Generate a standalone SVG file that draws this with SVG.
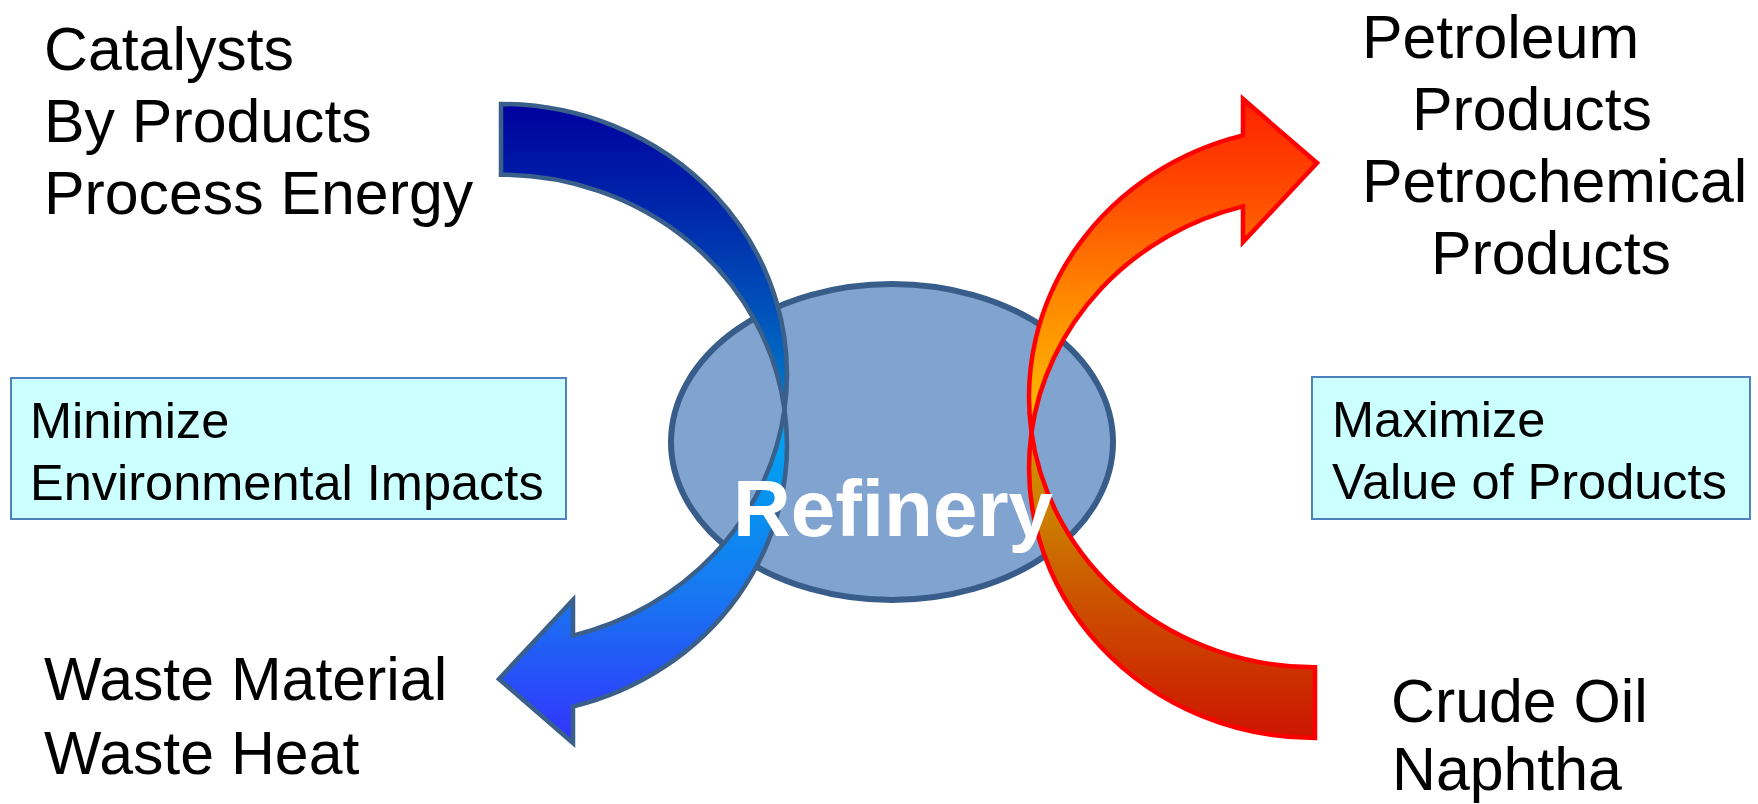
<svg xmlns="http://www.w3.org/2000/svg" width="1758" height="804" viewBox="0 0 1758 804">
<style>
.lbl{font-family:"Liberation Sans",Arial,sans-serif;font-size:60.8px;fill:#000}
.box{fill:#CCFFFF;stroke:#4F81BD;stroke-width:2}
.btxt{font-family:"Liberation Sans",Arial,sans-serif;font-size:50.5px;fill:#000}
.title{font-family:"Liberation Sans",Arial,sans-serif;font-size:80px;font-weight:bold;fill:#fff}
.blue{stroke:#3A5F8B;stroke-width:4.5;stroke-linejoin:miter;stroke-miterlimit:10}
.red{stroke:#FF0000;stroke-width:4.5;stroke-linejoin:miter;stroke-miterlimit:10}
</style>
<defs>
<linearGradient id="bBack" gradientUnits="userSpaceOnUse" x1="0" y1="104" x2="0" y2="420">
<stop offset="0" stop-color="#00009E"/>
<stop offset="0.4" stop-color="#0030AE"/>
<stop offset="0.7" stop-color="#0058BC"/>
<stop offset="1" stop-color="#0080CC"/>
</linearGradient>
<linearGradient id="bFront" gradientUnits="userSpaceOnUse" x1="0" y1="410" x2="0" y2="743">
<stop offset="0" stop-color="#00A8F0"/>
<stop offset="0.3" stop-color="#0890F0"/>
<stop offset="0.55" stop-color="#1878F2"/>
<stop offset="0.7" stop-color="#2060F4"/>
<stop offset="1" stop-color="#3333FF"/>
</linearGradient>
<linearGradient id="rFront" gradientUnits="userSpaceOnUse" x1="0" y1="95" x2="0" y2="433">
<stop offset="0" stop-color="#FF2000"/>
<stop offset="0.3" stop-color="#FF4C00"/>
<stop offset="0.6" stop-color="#FF8800"/>
<stop offset="0.85" stop-color="#FFAC00"/>
<stop offset="1" stop-color="#FFC000"/>
</linearGradient>
<linearGradient id="rBack" gradientUnits="userSpaceOnUse" x1="0" y1="420" x2="0" y2="740">
<stop offset="0" stop-color="#D09600"/>
<stop offset="0.3" stop-color="#CC7E00"/>
<stop offset="0.6" stop-color="#CC4C00"/>
<stop offset="1" stop-color="#CC1400"/>
</linearGradient>
</defs>

<g id="refinery">
<ellipse cx="892" cy="442" rx="221" ry="158" fill="#81A3CF" stroke="#385D8A" stroke-width="6"/>
</g>

<g id="connectors">
<g id="arrow-waste">
<path class="blue" fill="url(#bBack)" d="M 501,104 A 286 270.3 0 0 1 784.5,409.5 A 286 270.3 0 0 0 501,174.7 Z"/>
<path class="blue" fill="url(#bFront)" d="M 784.5,409.5 A 286 270.3 0 0 1 573,706.6 L 573,743 L 499,679 L 573,600 L 573,635.6 A 286 270.3 0 0 0 784.5,409.5 Z"/>
</g>
<g id="arrow-products">
<path class="red" fill="url(#rBack)" d="M 1315,738 A 286 270.3 0 0 1 1031.5,432.5 A 286 270.3 0 0 0 1315,667.3 Z"/>
<path class="red" fill="url(#rFront)" d="M 1031.5,432.5 A 286 270.3 0 0 1 1243,135.4 L 1243,99 L 1317,163 L 1243,242 L 1243,206.4 A 286 270.3 0 0 0 1031.5,432.5 Z"/>
</g>
</g>

<g id="refinery-label">
<text class="title" x="893" y="536" text-anchor="middle">Refinery</text>
</g>

<g id="inputs-top-left">
<text class="lbl" x="44" y="70">Catalysts</text>
<text class="lbl" x="44" y="142">By Products</text>
<text class="lbl" x="44" y="214">Process Energy</text>
</g>

<g id="outputs-top-right">
<text class="lbl" x="1362" y="58">Petroleum</text>
<text class="lbl" x="1412" y="130">Products</text>
<text class="lbl" x="1362" y="202">Petrochemical</text>
<text class="lbl" x="1431" y="274">Products</text>
</g>

<g id="minimize-box">
<rect class="box" x="11" y="378" width="555" height="141"/>
<text class="btxt" x="30" y="438">Minimize</text>
<text class="btxt" x="30" y="500">Environmental Impacts</text>
</g>

<g id="maximize-box">
<rect class="box" x="1312" y="377" width="438" height="142"/>
<text class="btxt" x="1332" y="437">Maximize</text>
<text class="btxt" x="1332" y="499">Value of Products</text>
</g>

<g id="waste-outputs">
<text class="lbl" x="44" y="700">Waste Material</text>
<text class="lbl" x="44" y="774">Waste Heat</text>
</g>

<g id="feed-inputs">
<text class="lbl" x="1391" y="722">Crude Oil</text>
<text class="lbl" x="1392" y="790">Naphtha</text>
</g>
</svg>
